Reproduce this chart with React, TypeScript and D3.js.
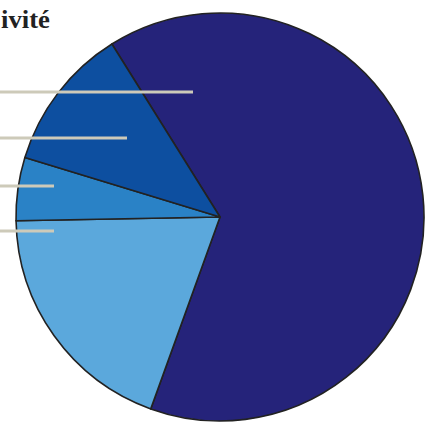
import React from "react";
import * as d3 from "d3";

const categories = ["A", "B", "C", "D"];
const values = [64.4, 19.2, 5.0, 11.4];
const colors = ["#25237a", "#5ba8dc", "#2a82c6", "#0d4fa0"];
const leaderYs = [92, 138, 186, 231];
const leaderEnds = [193, 127, 54, 54];
const titleText = "ivité";

export default function App() {
  const W = 425, H = 423;
  const cx = 220, cy = 217, r = 204;
  const pie = d3.pie<number>().sort(null).value((d) => d)
    .startAngle((-32 * Math.PI) / 180)
    .endAngle((-32 * Math.PI) / 180 + 2 * Math.PI);
  const arcs = pie(values);
  const arc = d3.arc<d3.PieArcDatum<number>>().innerRadius(0).outerRadius(r);
  return (
    <svg width={W} height={H} style={{ position: "fixed", left: 0, top: 0, background: "#fff" }}>
      <g transform={`translate(${cx},${cy})`}>
        {arcs.map((a, i) => (
          <path key={categories[i]} d={arc(a) || ""} fill={colors[i]} stroke="#222" strokeWidth={1.6} strokeLinejoin="round" />
        ))}
      </g>
      {leaderYs.map((y, i) => (
        <line key={i} x1={0} x2={leaderEnds[i]} y1={y} y2={y} stroke="#cdcab9" strokeWidth={3} />
      ))}
      <text x={1} y={28} textAnchor="start" fontFamily="Liberation Serif, serif" fontWeight="bold" fontSize={25} textLength={49} lengthAdjust="spacingAndGlyphs" fill="#222">
        {titleText}
      </text>
    </svg>
  );
}
